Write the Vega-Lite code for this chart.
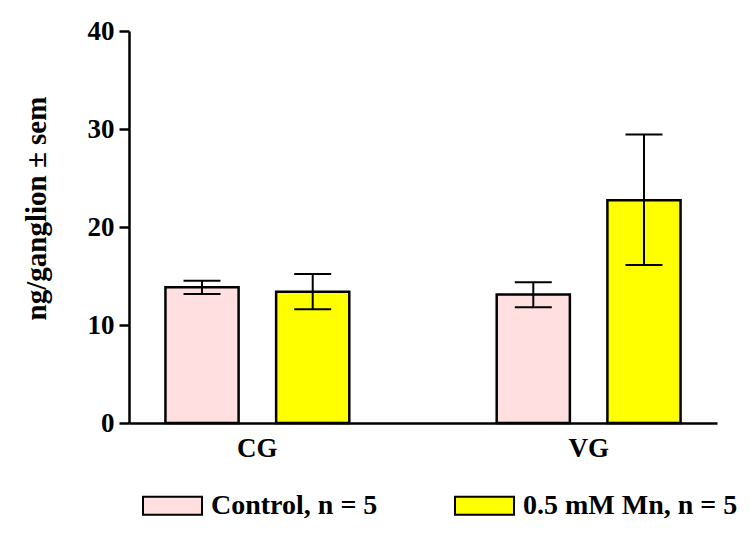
{
  "$schema": "https://vega.github.io/schema/vega-lite/v6.json",
  "width": 588,
  "height": 392,
  "autosize": {"type": "none"},
  "padding": {"left": 129, "top": 31, "right": 33, "bottom": 113},
  "background": "white",
  "config": {
    "font": "Liberation Serif",
    "view": {"stroke": null},
    "axis": {"labelColor": "black", "titleColor": "black", "grid": false}
  },
  "data": {
    "values": [
      {"ganglion": "CG", "group": "Control, n = 5", "mean": 13.85, "lo": 13.17, "hi": 14.52},
      {"ganglion": "CG", "group": "0.5 mM Mn, n = 5", "mean": 13.4, "lo": 11.6, "hi": 15.2},
      {"ganglion": "VG", "group": "Control, n = 5", "mean": 13.1, "lo": 11.8, "hi": 14.36},
      {"ganglion": "VG", "group": "0.5 mM Mn, n = 5", "mean": 22.74, "lo": 16.12, "hi": 29.43}
    ]
  },
  "encoding": {
    "x": {
      "field": "ganglion",
      "type": "nominal",
      "title": null,
      "scale": {"paddingInner": 0.445, "paddingOuter": 0.11},
      "axis": {
        "domainColor": "black",
        "domainWidth": 2.5,
        "ticks": false,
        "tickSize": 0,
        "labelAngle": 0,
        "labelFontSize": 27,
        "labelFontWeight": "bold",
        "labelPadding": 12
      }
    },
    "xOffset": {
      "field": "group",
      "type": "nominal",
      "sort": ["Control, n = 5", "0.5 mM Mn, n = 5"],
      "scale": {"paddingInner": 0.339, "paddingOuter": 0}
    }
  },
  "layer": [
    {
      "mark": {"type": "bar", "stroke": "black", "strokeWidth": 2.5, "opacity": 1},
      "encoding": {
        "y": {
          "field": "mean",
          "type": "quantitative",
          "title": "ng/ganglion ± sem",
          "scale": {"domain": [0, 40]},
          "axis": {
            "values": [0, 10, 20, 30, 40],
            "domainColor": "black",
            "domainWidth": 2.5,
            "tickColor": "black",
            "tickWidth": 2.5,
            "tickSize": 10,
            "labelFontSize": 27,
            "labelFontWeight": "bold",
            "labelPadding": 5,
            "titleFontSize": 29,
            "titleFontWeight": "bold",
            "titlePadding": 36,
            "titleY": 177
          }
        },
        "fill": {
          "field": "group",
          "type": "nominal",
          "scale": {
            "domain": ["Control, n = 5", "0.5 mM Mn, n = 5"],
            "range": ["#FFDFDF", "#FFFF00"]
          },
          "legend": {
            "orient": "none",
            "direction": "horizontal",
            "legendX": 13,
            "legendY": 444,
            "title": null,
            "padding": 0,
            "symbolType": "M-1,-0.305H1V0.305H-1Z",
            "symbolSize": 3481,
            "symbolStrokeColor": "black",
            "symbolStrokeWidth": 2,
            "symbolOpacity": 1,
            "labelFontSize": 28,
            "labelFontWeight": "bold",
            "labelColor": "black",
            "labelOffset": 8,
            "labelLimit": 400,
            "columnPadding": 73
          }
        }
      }
    },
    {
      "mark": {"type": "rule", "color": "black", "strokeWidth": 2, "opacity": 1},
      "encoding": {
        "y": {"field": "lo", "type": "quantitative"},
        "y2": {"field": "hi"}
      }
    },
    {
      "mark": {"type": "tick", "color": "black", "thickness": 2, "size": 37, "opacity": 1},
      "encoding": {"y": {"field": "hi", "type": "quantitative"}}
    },
    {
      "mark": {"type": "tick", "color": "black", "thickness": 2, "size": 37, "opacity": 1},
      "encoding": {"y": {"field": "lo", "type": "quantitative"}}
    }
  ]
}
